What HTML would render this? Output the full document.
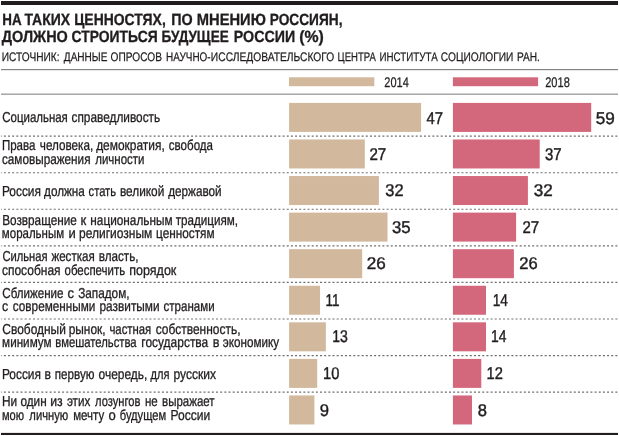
<!DOCTYPE html><html><head><meta charset="utf-8"><style>
html,body{margin:0;padding:0;background:#fff}
#c{position:relative;width:619px;height:436px;overflow:hidden;background:#fff}
#g{position:absolute;left:0;top:0;will-change:transform}
text{font-family:"Liberation Sans",sans-serif;fill:#211d1e;stroke:#211d1e;stroke-linejoin:round;white-space:pre}
</style></head><body><div id="c">
<svg id="g" width="619" height="436" viewBox="0 0 619 436" text-rendering="geometricPrecision">
<rect x="0" y="0" width="619" height="436" fill="#fff"/>
<rect x="1" y="1" width="617" height="4" fill="#211d1e"/>
<rect x="1" y="69.1" width="617" height="1.1" fill="#787878"/>
<rect x="1" y="93.65" width="617" height="1.0" fill="#787878"/>
<rect x="1" y="432.9" width="617" height="2.1" fill="#211d1e"/>
<rect x="289.10" y="102.90" width="132.00" height="29.00" fill="#d2b89c"/>
<rect x="452.90" y="102.90" width="138.30" height="29.00" fill="#d3677b"/>
<rect x="289.10" y="139.47" width="75.70" height="29.00" fill="#d2b89c"/>
<rect x="452.90" y="139.47" width="86.80" height="29.00" fill="#d3677b"/>
<rect x="289.10" y="176.04" width="89.80" height="29.00" fill="#d2b89c"/>
<rect x="452.90" y="176.04" width="75.00" height="29.00" fill="#d3677b"/>
<rect x="289.10" y="212.61" width="98.40" height="29.00" fill="#d2b89c"/>
<rect x="452.90" y="212.61" width="63.20" height="29.00" fill="#d3677b"/>
<rect x="289.10" y="249.18" width="73.10" height="29.00" fill="#d2b89c"/>
<rect x="452.90" y="249.18" width="61.00" height="29.00" fill="#d3677b"/>
<rect x="289.10" y="285.75" width="30.95" height="29.00" fill="#d2b89c"/>
<rect x="452.90" y="285.75" width="33.10" height="29.00" fill="#d3677b"/>
<rect x="289.10" y="322.32" width="36.75" height="29.00" fill="#d2b89c"/>
<rect x="452.90" y="322.32" width="33.10" height="29.00" fill="#d3677b"/>
<rect x="289.10" y="358.89" width="28.10" height="29.00" fill="#d2b89c"/>
<rect x="452.90" y="358.89" width="28.40" height="29.00" fill="#d3677b"/>
<rect x="289.10" y="395.46" width="25.30" height="29.00" fill="#d2b89c"/>
<rect x="452.90" y="395.46" width="19.10" height="29.00" fill="#d3677b"/>
<rect x="289.00" y="77.30" width="85.30" height="8.90" fill="#d2b89c"/>
<rect x="452.90" y="77.30" width="85.20" height="8.90" fill="#d3677b"/>
<line x1="1" y1="136.15" x2="618" y2="136.15" stroke="#6e6e6e" stroke-width="1.15" stroke-dasharray="2 2.16" stroke-dashoffset="1.3"/>
<line x1="1" y1="172.72" x2="618" y2="172.72" stroke="#6e6e6e" stroke-width="1.15" stroke-dasharray="2 2.16" stroke-dashoffset="1.3"/>
<line x1="1" y1="209.29" x2="618" y2="209.29" stroke="#6e6e6e" stroke-width="1.15" stroke-dasharray="2 2.16" stroke-dashoffset="1.3"/>
<line x1="1" y1="245.86" x2="618" y2="245.86" stroke="#6e6e6e" stroke-width="1.15" stroke-dasharray="2 2.16" stroke-dashoffset="1.3"/>
<line x1="1" y1="282.43" x2="618" y2="282.43" stroke="#6e6e6e" stroke-width="1.15" stroke-dasharray="2 2.16" stroke-dashoffset="1.3"/>
<line x1="1" y1="319.00" x2="618" y2="319.00" stroke="#6e6e6e" stroke-width="1.15" stroke-dasharray="2 2.16" stroke-dashoffset="1.3"/>
<line x1="1" y1="355.57" x2="618" y2="355.57" stroke="#6e6e6e" stroke-width="1.15" stroke-dasharray="2 2.16" stroke-dashoffset="1.3"/>
<line x1="1" y1="392.14" x2="618" y2="392.14" stroke="#6e6e6e" stroke-width="1.15" stroke-dasharray="2 2.16" stroke-dashoffset="1.3"/>
<text transform="translate(2.23,25.30) scale(0.8223,1)" font-size="16.3" font-weight="bold" stroke-width="0.32">НА</text>
<text transform="translate(24.38,25.30) scale(0.8603,1)" font-size="16.3" font-weight="bold" stroke-width="0.32">ТАКИХ</text>
<text transform="translate(74.20,25.30) scale(0.8549,1)" font-size="16.3" font-weight="bold" stroke-width="0.32">ЦЕННОСТЯХ,</text>
<text transform="translate(171.18,25.30) scale(0.8799,1)" font-size="16.3" font-weight="bold" stroke-width="0.32">ПО</text>
<text transform="translate(196.76,25.30) scale(0.9035,1)" font-size="16.3" font-weight="bold" stroke-width="0.32">МНЕНИЮ</text>
<text transform="translate(269.72,25.30) scale(0.8408,1)" font-size="16.3" font-weight="bold" stroke-width="0.32">РОССИЯН,</text>
<text transform="translate(1.83,42.40) scale(0.8861,1)" font-size="16.3" font-weight="bold" stroke-width="0.32">ДОЛЖНО</text>
<text transform="translate(71.57,42.40) scale(0.8530,1)" font-size="16.3" font-weight="bold" stroke-width="0.32">СТРОИТЬСЯ</text>
<text transform="translate(161.52,42.40) scale(0.8310,1)" font-size="16.3" font-weight="bold" stroke-width="0.32">БУДУЩЕЕ</text>
<text transform="translate(233.78,42.40) scale(0.8741,1)" font-size="16.3" font-weight="bold" stroke-width="0.32">РОССИИ</text>
<text transform="translate(299.25,42.40) scale(0.9736,1)" font-size="16.3" font-weight="bold" stroke-width="0.32">(%)</text>
<text transform="translate(1.77,60.90) scale(0.8186,1)" font-size="12.4" stroke-width="0.25">ИСТОЧНИК:</text>
<text transform="translate(63.83,60.90) scale(0.8115,1)" font-size="12.4" stroke-width="0.25">ДАННЫЕ</text>
<text transform="translate(110.60,60.90) scale(0.8183,1)" font-size="12.4" stroke-width="0.25">ОПРОСОВ</text>
<text transform="translate(166.09,60.90) scale(0.8023,1)" font-size="12.4" stroke-width="0.25">НАУЧНО-</text>
<text transform="translate(210.86,60.90) scale(0.8272,1)" font-size="12.4" stroke-width="0.25">ИССЛЕДОВАТЕЛЬСКОГО</text>
<text transform="translate(337.62,60.90) scale(0.7693,1)" font-size="12.4" stroke-width="0.25">ЦЕНТРА</text>
<text transform="translate(379.50,60.90) scale(0.7891,1)" font-size="12.4" stroke-width="0.25">ИНСТИТУТА</text>
<text transform="translate(440.87,60.90) scale(0.8211,1)" font-size="12.4" stroke-width="0.25">СОЦИОЛОГИИ</text>
<text transform="translate(516.97,60.90) scale(0.8161,1)" font-size="12.4" stroke-width="0.25">РАН.</text>
<text transform="translate(384.28,86.90) scale(0.7868,1)" font-size="14.0" stroke-width="0.25">2014</text>
<text transform="translate(545.18,86.90) scale(0.7905,1)" font-size="14.0" stroke-width="0.25">2018</text>
<text transform="translate(2.27,122.15) scale(0.7903,1)" font-size="14.5" stroke-width="0.3">Социальная</text>
<text transform="translate(71.52,122.15) scale(0.8162,1)" font-size="14.5" stroke-width="0.3">справедливость</text>
<text transform="translate(1.92,149.70) scale(0.7951,1)" font-size="14.5" stroke-width="0.3">Права</text>
<text transform="translate(39.81,149.70) scale(0.8077,1)" font-size="14.5" stroke-width="0.3">человека,</text>
<text transform="translate(96.13,149.70) scale(0.8229,1)" font-size="14.5" stroke-width="0.3">демократия,</text>
<text transform="translate(168.83,149.70) scale(0.7961,1)" font-size="14.5" stroke-width="0.3">свобода</text>
<text transform="translate(1.93,163.75) scale(0.8103,1)" font-size="14.5" stroke-width="0.3">самовыражения</text>
<text transform="translate(95.24,163.75) scale(0.7920,1)" font-size="14.5" stroke-width="0.3">личности</text>
<text transform="translate(1.89,195.65) scale(0.8217,1)" font-size="14.5" stroke-width="0.3">Россия</text>
<text transform="translate(44.03,195.65) scale(0.8096,1)" font-size="14.5" stroke-width="0.3">должна</text>
<text transform="translate(88.54,195.65) scale(0.7723,1)" font-size="14.5" stroke-width="0.3">стать</text>
<text transform="translate(119.90,195.65) scale(0.8176,1)" font-size="14.5" stroke-width="0.3">великой</text>
<text transform="translate(168.13,195.65) scale(0.8095,1)" font-size="14.5" stroke-width="0.3">державой</text>
<text transform="translate(2.20,224.55) scale(0.8107,1)" font-size="14.5" stroke-width="0.3">Возвращение</text>
<text transform="translate(80.53,224.55) scale(0.9000,1)" font-size="14.5" stroke-width="0.3">к</text>
<text transform="translate(90.31,224.55) scale(0.8140,1)" font-size="14.5" stroke-width="0.3">национальным</text>
<text transform="translate(175.77,224.55) scale(0.8035,1)" font-size="14.5" stroke-width="0.3">традициям,</text>
<text transform="translate(1.83,238.45) scale(0.7928,1)" font-size="14.5" stroke-width="0.3">моральным</text>
<text transform="translate(68.43,238.45) scale(0.9000,1)" font-size="14.5" stroke-width="0.3">и</text>
<text transform="translate(79.02,238.45) scale(0.8279,1)" font-size="14.5" stroke-width="0.3">религиозным</text>
<text transform="translate(156.01,238.45) scale(0.8140,1)" font-size="14.5" stroke-width="0.3">ценностям</text>
<text transform="translate(2.38,260.75) scale(0.7710,1)" font-size="14.5" stroke-width="0.3">Сильная</text>
<text transform="translate(51.44,260.75) scale(0.7983,1)" font-size="14.5" stroke-width="0.3">жесткая</text>
<text transform="translate(98.71,260.75) scale(0.8062,1)" font-size="14.5" stroke-width="0.3">власть,</text>
<text transform="translate(1.92,274.65) scale(0.8280,1)" font-size="14.5" stroke-width="0.3">способная</text>
<text transform="translate(64.53,274.65) scale(0.7891,1)" font-size="14.5" stroke-width="0.3">обеспечить</text>
<text transform="translate(129.27,274.65) scale(0.8631,1)" font-size="14.5" stroke-width="0.3">порядок</text>
<text transform="translate(2.36,297.55) scale(0.7976,1)" font-size="14.5" stroke-width="0.3">Сближение</text>
<text transform="translate(67.58,297.55) scale(0.8970,1)" font-size="14.5" stroke-width="0.3">с</text>
<text transform="translate(78.13,297.55) scale(0.8126,1)" font-size="14.5" stroke-width="0.3">Западом,</text>
<text transform="translate(1.91,311.35) scale(0.8489,1)" font-size="14.5" stroke-width="0.3">с</text>
<text transform="translate(12.82,311.35) scale(0.8104,1)" font-size="14.5" stroke-width="0.3">современными</text>
<text transform="translate(99.53,311.35) scale(0.8160,1)" font-size="14.5" stroke-width="0.3">развитыми</text>
<text transform="translate(163.53,311.35) scale(0.7955,1)" font-size="14.5" stroke-width="0.3">странами</text>
<text transform="translate(2.35,333.55) scale(0.8236,1)" font-size="14.5" stroke-width="0.3">Свободный</text>
<text transform="translate(68.63,333.55) scale(0.8215,1)" font-size="14.5" stroke-width="0.3">рынок,</text>
<text transform="translate(109.42,333.55) scale(0.7833,1)" font-size="14.5" stroke-width="0.3">частная</text>
<text transform="translate(155.72,333.55) scale(0.8255,1)" font-size="14.5" stroke-width="0.3">собственность,</text>
<text transform="translate(2.11,347.45) scale(0.8059,1)" font-size="14.5" stroke-width="0.3">минимум</text>
<text transform="translate(55.34,347.45) scale(0.7776,1)" font-size="14.5" stroke-width="0.3">вмешательства</text>
<text transform="translate(141.30,347.45) scale(0.8249,1)" font-size="14.5" stroke-width="0.3">государства</text>
<text transform="translate(212.66,347.45) scale(0.8700,1)" font-size="14.5" stroke-width="0.3">в</text>
<text transform="translate(222.83,347.45) scale(0.8065,1)" font-size="14.5" stroke-width="0.3">экономику</text>
<text transform="translate(1.89,378.55) scale(0.8217,1)" font-size="14.5" stroke-width="0.3">Россия</text>
<text transform="translate(44.58,378.55) scale(0.8384,1)" font-size="14.5" stroke-width="0.3">в</text>
<text transform="translate(54.72,378.55) scale(0.8030,1)" font-size="14.5" stroke-width="0.3">первую</text>
<text transform="translate(98.52,378.55) scale(0.8239,1)" font-size="14.5" stroke-width="0.3">очередь,</text>
<text transform="translate(150.57,378.55) scale(0.7650,1)" font-size="14.5" stroke-width="0.3">для</text>
<text transform="translate(173.52,378.55) scale(0.8324,1)" font-size="14.5" stroke-width="0.3">русских</text>
<text transform="translate(1.89,405.70) scale(0.8173,1)" font-size="14.5" stroke-width="0.3">Ни</text>
<text transform="translate(20.42,405.70) scale(0.8122,1)" font-size="14.5" stroke-width="0.3">один</text>
<text transform="translate(50.28,405.70) scale(0.8448,1)" font-size="14.5" stroke-width="0.3">из</text>
<text transform="translate(66.93,405.70) scale(0.8037,1)" font-size="14.5" stroke-width="0.3">этих</text>
<text transform="translate(95.04,405.70) scale(0.7686,1)" font-size="14.5" stroke-width="0.3">лозунгов</text>
<text transform="translate(144.92,405.70) scale(0.7971,1)" font-size="14.5" stroke-width="0.3">не</text>
<text transform="translate(162.02,405.70) scale(0.7933,1)" font-size="14.5" stroke-width="0.3">выражает</text>
<text transform="translate(1.94,419.65) scale(0.7650,1)" font-size="14.5" stroke-width="0.3">мою</text>
<text transform="translate(29.34,419.65) scale(0.7750,1)" font-size="14.5" stroke-width="0.3">личную</text>
<text transform="translate(73.13,419.65) scale(0.7916,1)" font-size="14.5" stroke-width="0.3">мечту</text>
<text transform="translate(108.58,419.65) scale(0.9000,1)" font-size="14.5" stroke-width="0.3">о</text>
<text transform="translate(119.73,419.65) scale(0.7697,1)" font-size="14.5" stroke-width="0.3">будущем</text>
<text transform="translate(170.58,419.65) scale(0.8319,1)" font-size="14.5" stroke-width="0.3">России</text>
<text transform="translate(426.58,123.70) scale(0.8743,1)" font-size="17.0" stroke-width="0.42">47</text>
<text transform="translate(595.80,123.70) scale(1.0069,1)" font-size="17.0" stroke-width="0.42">59</text>
<text transform="translate(369.40,159.57) scale(0.8898,1)" font-size="17.0" stroke-width="0.42">27</text>
<text transform="translate(545.00,159.57) scale(0.8791,1)" font-size="17.0" stroke-width="0.42">37</text>
<text transform="translate(385.26,196.14) scale(0.9664,1)" font-size="17.0" stroke-width="0.42">32</text>
<text transform="translate(533.64,196.14) scale(1.0055,1)" font-size="17.0" stroke-width="0.42">32</text>
<text transform="translate(392.05,232.71) scale(0.9814,1)" font-size="17.0" stroke-width="0.42">35</text>
<text transform="translate(522.40,232.71) scale(0.8842,1)" font-size="17.0" stroke-width="0.42">27</text>
<text transform="translate(366.64,269.28) scale(1.0061,1)" font-size="17.0" stroke-width="0.42">26</text>
<text transform="translate(519.25,269.28) scale(0.9726,1)" font-size="17.0" stroke-width="0.42">26</text>
<text transform="translate(325.49,305.85) scale(0.7910,1)" font-size="17.0" stroke-width="0.42">11</text>
<text transform="translate(492.68,305.85) scale(0.8049,1)" font-size="17.0" stroke-width="0.42">14</text>
<text transform="translate(332.25,342.42) scale(0.8276,1)" font-size="17.0" stroke-width="0.42">13</text>
<text transform="translate(491.06,342.42) scale(0.8163,1)" font-size="17.0" stroke-width="0.42">14</text>
<text transform="translate(323.01,378.99) scale(0.8615,1)" font-size="17.0" stroke-width="0.42">10</text>
<text transform="translate(486.51,378.99) scale(0.8657,1)" font-size="17.0" stroke-width="0.42">12</text>
<text transform="translate(319.64,415.56) scale(0.9775,1)" font-size="17.0" stroke-width="0.42">9</text>
<text transform="translate(477.74,415.56) scale(0.9734,1)" font-size="17.0" stroke-width="0.42">8</text>
</svg></div></body></html>
